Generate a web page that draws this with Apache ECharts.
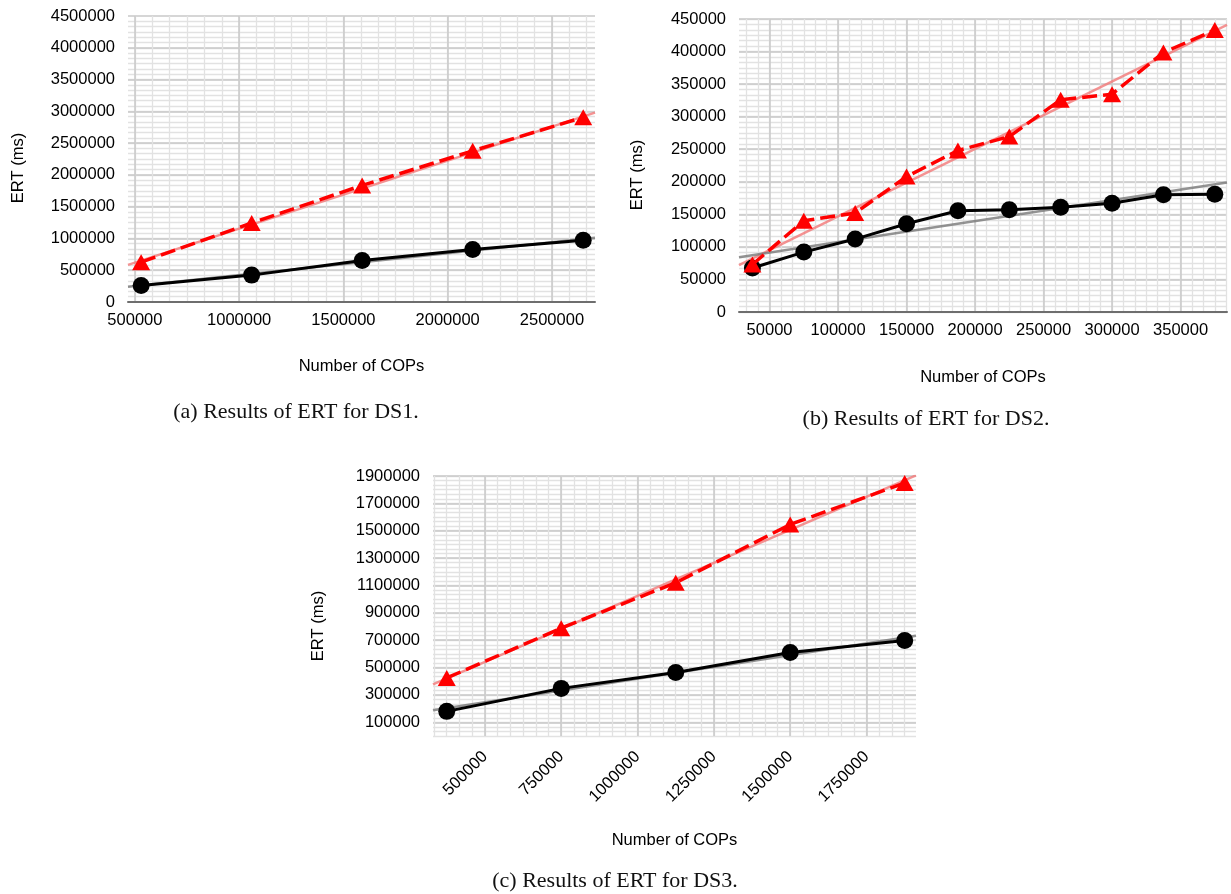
<!DOCTYPE html>
<html>
<head>
<meta charset="utf-8">
<script src="https://cdn.jsdelivr.net/npm/echarts@6/dist/echarts.min.js"></script>
<style>
  html, body { margin: 0; padding: 0; background: #fff; }
  #chart { width: 1231px; height: 894px; }
</style>
</head>
<body>
<div id="chart"></div>
<script>
// ---- DS1 ----
const cops1 = [530000, 1060000, 1590000, 2120000, 2650000]
const base1 = [261000, 423000, 653000, 826000, 972000]
const ours1 = [627000, 1244000, 1835000, 2378000, 2906000]
const trendBase1 = [[467000, 240000], [2706500, 1010000]]
const trendOurs1 = [[467000, 585000], [2706500, 2980000]]
const xTicks1 = [500000, 1000000, 1500000, 2000000, 2500000]
const yTicks1 = [0, 500000, 1000000, 1500000, 2000000, 2500000, 3000000, 3500000, 4000000, 4500000]

// ---- DS2 ----
const cops2 = [37500, 75000, 112500, 150000, 187500, 225000, 262500, 300000, 337500, 375000]
const base2 = [67500, 92000, 112000, 135500, 155500, 157000, 161000, 167000, 180000, 181000]
const ours2 = [73000, 140000, 152000, 208000, 248000, 269500, 326000, 334500, 398500, 433000]
const trendBase2 = [[27700, 84000], [383900, 199000]]
const trendOurs2 = [[27700, 72000], [383900, 441000]]
const xTicks2 = [50000, 100000, 150000, 200000, 250000, 300000, 350000]
const yTicks2 = [0, 50000, 100000, 150000, 200000, 250000, 300000, 350000, 400000, 450000]

// ---- DS3 ----
const cops3 = [375000, 750000, 1125000, 1500000, 1875000]
const base3 = [180000, 348000, 464000, 610000, 698000]
const ours3 = [424000, 788000, 1120000, 1546000, 1849000]
const trendBase3 = [[330000, 188000], [1912000, 732000]]
const trendOurs3 = [[330000, 378000], [1912000, 1905000]]
const xTicks3 = [500000, 750000, 1000000, 1250000, 1500000, 1750000]
const yTicks3 = [100000, 300000, 500000, 700000, 900000, 1100000, 1300000, 1500000, 1700000, 1900000]

const sans = 'Liberation Sans, Arial, sans-serif'
const serif = 'Liberation Serif, Times New Roman, serif'

// minor grid positions: 6 parts between major lines
function minorOf(ticks, min, max) {
  const step = (ticks[1] - ticks[0]) / 6
  const out = []
  for (let v = ticks[0] - 6 * step; v <= ticks[ticks.length - 1] + 6 * step + 1; v += step) {
    if (v >= min && v <= max) out.push(Math.round(v))
  }
  return out
}

function pairs(xs, ys) {
  return xs.map((x, i) => [x, ys[i]])
}

const charts = [
  {
    grid: { left: 128, top: 16, width: 467, height: 286 },
    xMin: 467000, xMax: 2706500, yMin: 0, yMax: 4500000,
    xTicks: xTicks1, yTicks: yTicks1, baseline: true,
    xNameGap: 56, rotate: 0, xMargin: 10, yTitle: [18, 168],
    cops: cops1, base: base1, ours: ours1, tb: trendBase1, to: trendOurs1
  },
  {
    grid: { left: 739, top: 19, width: 488, height: 293 },
    xMin: 27700, xMax: 383900, yMin: 0, yMax: 450000,
    xTicks: xTicks2, yTicks: yTicks2, baseline: true,
    xNameGap: 57, rotate: 0, xMargin: 10, yTitle: [637, 175],
    cops: cops2, base: base2, ours: ours2, tb: trendBase2, to: trendOurs2
  },
  {
    grid: { left: 433, top: 476, width: 483, height: 260 },
    xMin: 330000, xMax: 1912000, yMin: 0, yMax: 1900000,
    xTicks: xTicks3, yTicks: yTicks3, baseline: false,
    xNameGap: 96, rotate: 45, xMargin: 18, yTitle: [318, 626],
    cops: cops3, base: base3, ours: ours3, tb: trendBase3, to: trendOurs3
  }
]

const labelStyle = { color: '#000', fontSize: 16.5, fontFamily: sans, formatter: v => String(v) }
const nameStyle = { color: '#000', fontSize: 16.5, fontFamily: sans }

const grid = []
const xAxis = []
const yAxis = []
const series = []
const graphic = []

charts.forEach((c, g) => {
  grid.push(c.grid)
  // minor axes first so the major lines sit on top
  xAxis.push({
    gridIndex: g, type: 'value', min: c.xMin, max: c.xMax, position: 'top',
    axisLine: { show: false }, axisLabel: { show: false },
    axisTick: { show: false, customValues: minorOf(c.xTicks, c.xMin, c.xMax) },
    splitLine: { show: true, lineStyle: { color: '#e2e2e2', width: 1.3 } }
  })
  xAxis.push({
    gridIndex: g, type: 'value', min: c.xMin, max: c.xMax, position: 'bottom',
    axisLine: { show: c.baseline, onZero: false, lineStyle: { color: '#6e6e6e', width: 2 } },
    axisTick: { show: false, customValues: c.xTicks },
    axisLabel: Object.assign({ customValues: c.xTicks, margin: c.xMargin, rotate: c.rotate }, labelStyle),
    splitLine: { show: true, lineStyle: { color: '#c9c9c9', width: 1.5 } },
    name: 'Number of COPs', nameLocation: 'middle', nameGap: c.xNameGap, nameTextStyle: nameStyle
  })
  yAxis.push({
    gridIndex: g, type: 'value', min: c.yMin, max: c.yMax, position: 'right',
    axisLine: { show: false }, axisLabel: { show: false },
    axisTick: { show: false, customValues: minorOf(c.yTicks, c.yMin, c.yMax) },
    splitLine: { show: true, lineStyle: { color: '#e2e2e2', width: 1.3 } }
  })
  yAxis.push({
    gridIndex: g, type: 'value', min: c.yMin, max: c.yMax, position: 'left',
    axisLine: { show: false },
    axisTick: { show: false, customValues: c.yTicks },
    axisLabel: Object.assign({ customValues: c.yTicks, margin: 13 }, labelStyle),
    splitLine: { show: true, lineStyle: { color: '#c9c9c9', width: 1.5 } }
  })
  graphic.push({
    type: 'text', x: c.yTitle[0], y: c.yTitle[1], rotation: Math.PI / 2,
    style: { text: 'ERT (ms)', fill: '#000', font: '16.5px ' + sans, textAlign: 'center', textVerticalAlign: 'middle' }
  })
  const xi = 2 * g + 1
  series.push({
    type: 'line', xAxisIndex: xi, yAxisIndex: xi, data: c.to, symbol: 'none', silent: true,
    lineStyle: { color: 'rgba(242,120,120,0.8)', width: 2.5 }, z: 2
  })
  series.push({
    type: 'line', xAxisIndex: xi, yAxisIndex: xi, data: c.tb, symbol: 'none', silent: true,
    lineStyle: { color: 'rgba(120,120,120,0.8)', width: 2.5 }, z: 2
  })
  series.push({
    type: 'line', xAxisIndex: xi, yAxisIndex: xi, data: pairs(c.cops, c.base),
    symbol: 'circle', symbolSize: 17,
    itemStyle: { color: '#000' }, lineStyle: { color: '#000', width: 3 }, z: 3
  })
  series.push({
    type: 'line', xAxisIndex: xi, yAxisIndex: xi, data: pairs(c.cops, c.ours),
    symbol: 'triangle', symbolSize: [18, 16],
    itemStyle: { color: '#ff0000' }, lineStyle: { color: '#ff0000', width: 3.5, type: [15, 6] }, z: 4
  })
})

const capStyle = { fontFamily: serif, fontSize: 22, fontWeight: 'normal', color: '#111' }
const title = [
  { text: '(a) Results of ERT for DS1.', left: 296, top: 401, textAlign: 'center', padding: 0, textStyle: capStyle },
  { text: '(b) Results of ERT for DS2.', left: 926, top: 408, textAlign: 'center', padding: 0, textStyle: capStyle },
  { text: '(c) Results of ERT for DS3.', left: 615, top: 870, textAlign: 'center', padding: 0, textStyle: capStyle }
]

const myChart = echarts.init(document.getElementById('chart'))
myChart.setOption({
  animation: false,
  backgroundColor: '#fff',
  title: title,
  grid: grid,
  xAxis: xAxis,
  yAxis: yAxis,
  series: series,
  graphic: graphic
})
</script>
</body>
</html>
